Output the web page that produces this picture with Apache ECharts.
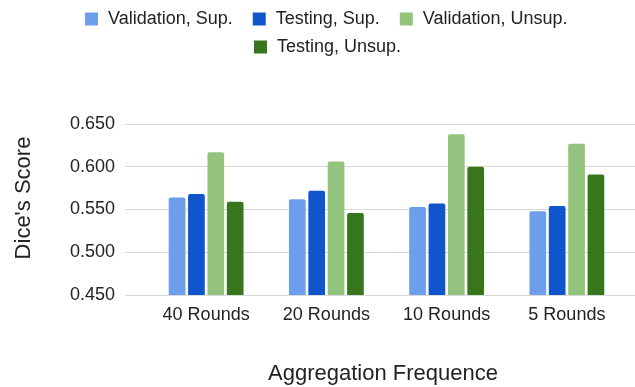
<!DOCTYPE html>
<html>
<head>
<meta charset="utf-8">
<script src="https://cdn.jsdelivr.net/npm/echarts@6/dist/echarts.min.js"></script>
<style>html,body{margin:0;padding:0;background:#fff}#c{width:635px;height:387px}</style>
</head>
<body>
<div id="c"></div>
<script>
const categories = ['40 Rounds', '20 Rounds', '10 Rounds', '5 Rounds'];
const seriesNames = ['Validation, Sup.', 'Testing, Sup.', 'Validation, Unsup.', 'Testing, Unsup.'];
const valSup = [0.564, 0.562, 0.553, 0.548];
const testSup = [0.568, 0.572, 0.557, 0.554];
const valUnsup = [0.617, 0.606, 0.638, 0.627];
const testUnsup = [0.559, 0.546, 0.600, 0.591];
const yTicks = [0.45, 0.50, 0.55, 0.60, 0.65];
const xTitle = 'Aggregation Frequence';
const yTitle = "Dice's Score";

const colors = ['#6d9eeb', '#1155cc', '#93c47d', '#38761d'];
const font = 'Liberation Sans, Arial, sans-serif';
const values = [valSup, testSup, valUnsup, testUnsup];

const chart = echarts.init(document.getElementById('c'), null, {renderer: 'canvas'});
const yMin = yTicks[0], yMax = yTicks[yTicks.length - 1], yStep = yTicks[1] - yTicks[0];

const legendCommon = {
  itemWidth: 13, itemHeight: 13, icon: 'rect', itemGap: 20, padding: 0,
  textStyle: {fontFamily: font, fontSize: 18, color: '#222', padding: [0, 0, 0, 5]}
};

chart.setOption({
  animation: false,
  color: colors,
  legend: [
    Object.assign({left: 85, top: 10, data: seriesNames.slice(0, 3)}, legendCommon),
    Object.assign({left: 254, top: 38, data: seriesNames.slice(3)}, legendCommon)
  ],
  grid: [
    {left: 125, right: 0, top: 124, bottom: 92},
    {left: 146, right: 8, top: 124, bottom: 92}
  ],
  xAxis: [
    {gridIndex: 0, type: 'value', show: false, min: 0, max: 1},
    {gridIndex: 1, type: 'category', data: categories,
     axisLine: {show: false}, axisTick: {show: false},
     axisLabel: {fontFamily: font, fontSize: 18, color: '#222', margin: 11}}
  ],
  yAxis: [
    {gridIndex: 0, type: 'value', min: yMin, max: yMax, interval: yStep,
     axisLine: {show: false}, axisTick: {show: false},
     splitLine: {lineStyle: {color: '#d9d9d9', width: 1}},
     axisLabel: {fontFamily: font, fontSize: 18, color: '#222', margin: 10,
       formatter: v => v.toFixed(3)}},
    {gridIndex: 1, type: 'value', min: yMin, max: yMax, interval: yStep, show: false,
     splitLine: {show: false}}
  ],
  graphic: [
    {type: 'text', x: 383, y: 374, style: {text: xTitle, font: '22px ' + font, fill: '#222',
      textAlign: 'center', textVerticalAlign: 'middle'}},
    {type: 'text', x: 24, y: 198, rotation: Math.PI / 2, style: {text: yTitle, font: '22px ' + font, fill: '#222',
      textAlign: 'center', textVerticalAlign: 'middle'}}
  ],
  series: seriesNames.map((n, i) => ({
    name: n, type: 'bar', xAxisIndex: 1, yAxisIndex: 1,
    data: values[i], barWidth: 16.7, barGap: '16%',
    itemStyle: {color: colors[i], borderRadius: [2, 2, 0, 0]}
  }))
});
</script>
</body>
</html>
